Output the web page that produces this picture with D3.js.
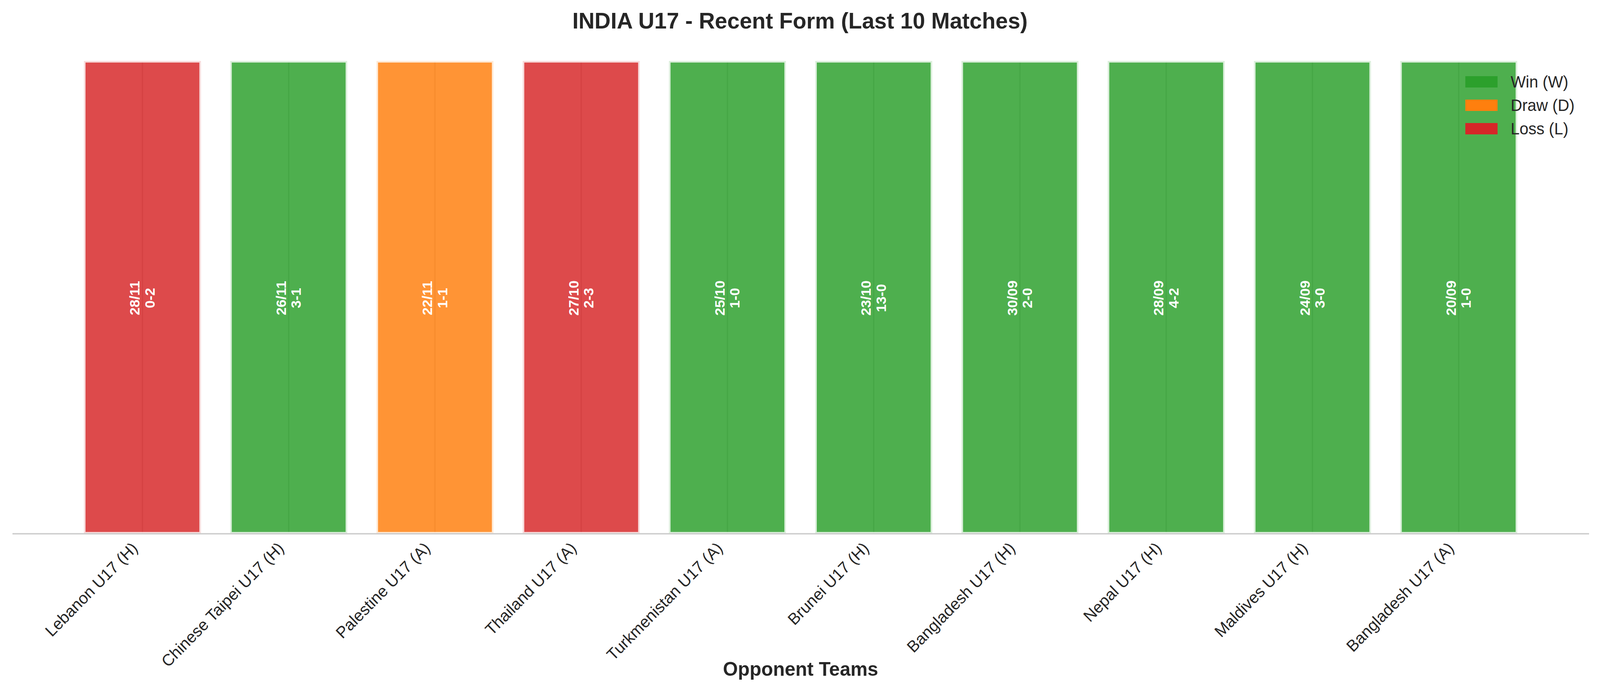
<!DOCTYPE html>
<html>
<head>
  <meta charset="utf-8">
  <title>INDIA U17 - Recent Form</title>
  <script src="https://d3js.org/d3.v7.min.js"></script>
  <style>
    html, body { margin: 0; padding: 0; background: #fff; overflow: hidden; }
    svg { display: block; width: 100vw; height: 100vh; }
    text { font-family: "Liberation Sans", Arial, Helvetica, sans-serif; fill: #262626; }
    .bar-label { fill: #fff; font-weight: bold; font-size: 36px; }
  </style>
</head>
<body>
  <svg id="chart"></svg>

  <script>
    // Match data (most recent first)
    const opponents = ["Lebanon U17 (H)", "Chinese Taipei U17 (H)", "Palestine U17 (A)", "Thailand U17 (A)",
                       "Turkmenistan U17 (A)", "Brunei U17 (H)", "Bangladesh U17 (H)", "Nepal U17 (H)",
                       "Maldives U17 (H)", "Bangladesh U17 (A)"];
    const matchDates = ["28/11", "26/11", "22/11", "27/10", "25/10", "23/10", "30/09", "28/09", "24/09", "20/09"];
    const scores = ["0-2", "3-1", "1-1", "2-3", "1-0", "13-0", "2-0", "4-2", "3-0", "1-0"];
    const results = ["L", "W", "D", "L", "W", "W", "W", "W", "W", "W"];
    const formValues = [1, 1, 1, 1, 1, 1, 1, 1, 1, 1];

    // Legend
    const resultKeys = ["W", "D", "L"];
    const legendLabels = ["Win (W)", "Draw (D)", "Loss (L)"];
    const resultColors = ["#2ca02c", "#ff7f0e", "#d62728"];

    const data = opponents.map((o, i) => ({
      opponent: o, date: matchDates[i], score: scores[i], result: results[i], value: formValues[i]
    }));

    // Dimensions (drawn in a 4170x1769 viewBox, stretched to the viewport)
    const width = 4170;
    const height = 1769;
    const plot = { left: 32, right: 4141, top: 156, bottom: 1366 };

    const svg = d3.select("#chart")
                  .attr("viewBox", `0 0 ${width} ${height}`)
                  .attr("preserveAspectRatio", "none");

    // Scales
    const xScale = d3.scaleBand()
                     .domain(opponents)
                     .range([plot.left, plot.right])
                     .paddingInner(0.2)
                     .paddingOuter(0.49);

    const yScale = d3.scaleLinear()
                     .domain([0, 1])
                     .range([plot.bottom, plot.top]);

    const color = d3.scaleOrdinal().domain(resultKeys).range(resultColors);

    const cx = d => xScale(d.opponent) + xScale.bandwidth() / 2;

    // Vertical grid lines at each tick (show through the bars)
    svg.append("g")
       .selectAll("line")
       .data(data)
       .join("line")
       .attr("x1", cx)
       .attr("x2", cx)
       .attr("y1", yScale(0))
       .attr("y2", yScale(1))
       .attr("stroke", "#cccccc")
       .attr("stroke-width", 3.5);

    // Bars
    svg.append("g")
       .selectAll("rect")
       .data(data)
       .join("rect")
       .attr("x", d => xScale(d.opponent))
       .attr("y", d => yScale(d.value))
       .attr("width", xScale.bandwidth())
       .attr("height", d => yScale(0) - yScale(d.value))
       .attr("fill", d => color(d.result))
       .attr("fill-opacity", 0.84)
       .attr("stroke", "#fff")
       .attr("stroke-opacity", 0.8)
       .attr("stroke-width", 8.3);

    // Date / score labels inside bars
    const labels = svg.append("g")
       .selectAll("text")
       .data(data)
       .join("text")
       .attr("class", "bar-label")
       .attr("text-anchor", "middle")
       .attr("dominant-baseline", "central")
       .attr("transform", d => `translate(${cx(d)},${yScale(d.value / 2) + 2}) rotate(-90)`);

    labels.append("tspan").attr("x", 0).attr("y", -19.5).text(d => d.date);
    labels.append("tspan").attr("x", 0).attr("y", 19.5).text(d => d.score);

    // X axis
    const xAxis = d3.axisBottom(xScale).tickSize(0).tickSizeOuter(0);
    const gx = svg.append("g")
       .attr("transform", `translate(0,${plot.bottom})`)
       .call(xAxis);

    gx.select(".domain")
      .attr("stroke", "#cccccc")
      .attr("stroke-width", 3.3);

    gx.selectAll(".tick text")
      .attr("x", -10)
      .attr("y", 40)
      .attr("dy", null)
      .attr("text-anchor", "end")
      .attr("transform", "rotate(-45,-10,40)")
      .style("font-family", "'Liberation Sans', Arial, Helvetica, sans-serif")
      .style("font-size", "41.7px")
      .attr("fill", "#262626");

    // Axis title
    svg.append("text")
       .attr("x", (plot.left + plot.right) / 2)
       .attr("y", 1730)
       .attr("text-anchor", "middle")
       .style("font-size", "50px")
       .style("font-weight", "bold")
       .text("Opponent Teams");

    // Chart title
    svg.append("text")
       .attr("x", width / 2)
       .attr("y", 73)
       .attr("text-anchor", "middle")
       .style("font-size", "58px")
       .style("font-weight", "bold")
       .text("INDIA U17 - Recent Form (Last 10 Matches)");

    // Legend (upper right)
    const legend = svg.append("g")
       .attr("transform", "translate(3819,195)");

    const items = legend.selectAll("g")
       .data(resultKeys)
       .join("g")
       .attr("transform", (d, i) => `translate(0,${i * 60})`);

    items.append("rect")
         .attr("width", 84)
         .attr("height", 29)
         .attr("fill", d => color(d));

    items.append("text")
         .attr("x", 118)
         .attr("y", 14.5)
         .attr("dominant-baseline", "central")
         .style("font-size", "41.7px")
         .text((d, i) => legendLabels[i]);
  </script>
</body>
</html>
